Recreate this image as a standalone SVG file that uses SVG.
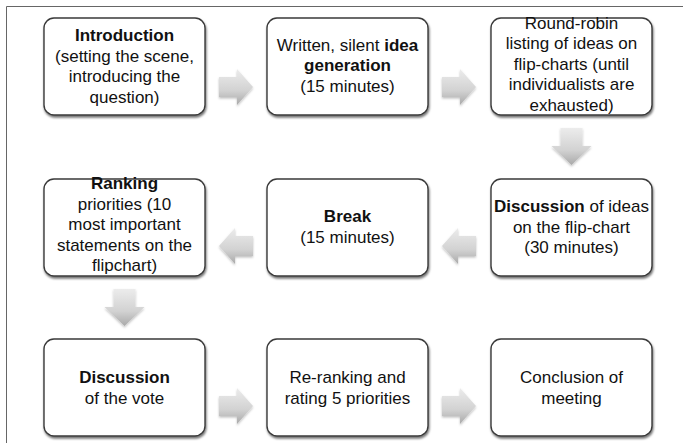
<svg xmlns="http://www.w3.org/2000/svg" width="683" height="443" viewBox="0 0 683 443">
<defs>
<linearGradient id="ag" x1="0" y1="0" x2="0" y2="1">
<stop offset="0" stop-color="#ececec"/>
<stop offset="0.6" stop-color="#d2d2d2"/>
<stop offset="1" stop-color="#a9a9a9"/>
</linearGradient>
<filter id="sh" x="-10%" y="-10%" width="125%" height="130%">
<feDropShadow dx="0.8" dy="2" stdDeviation="1.3" flood-color="#000" flood-opacity="0.55"/>
</filter>
<filter id="ash" x="-20%" y="-20%" width="150%" height="150%">
<feDropShadow dx="0" dy="1.5" stdDeviation="1.2" flood-color="#000" flood-opacity="0.25"/>
</filter>
</defs>
<style>
.box{fill:#fff;stroke:#3a3a3a;stroke-width:1.4;filter:url(#sh)}
text{font-family:"Liberation Sans",Arial,sans-serif;font-size:17px;fill:#111;text-anchor:middle}
.b{font-weight:bold}
.arr{fill:url(#ag);filter:url(#ash)}
.frame{stroke:#666;stroke-width:1;fill:none}
</style>
<rect width="683" height="443" fill="#fff"/>
<path class="frame" d="M6.5,443 V6.5 H683"/>

<g id="connectors">
<path class="arr" d="M219,77 H237 V69 L253,87 L237,105 V97 H219 Z"/>
<path class="arr" d="M442,77 H460 V69 L476,87 L460,105 V97 H442 Z"/>
<path class="arr" d="M560.5,128 V146 H551.5 L571.5,165 L591.5,146 H582.5 V128 Z"/>
<path class="arr" d="M476,236 H458 V228 L442,246 L458,264 V256 H476 Z"/>
<path class="arr" d="M253,236 H235 V228 L219,246 L235,264 V256 H253 Z"/>
<path class="arr" d="M113.5,289 V307 H104.5 L124.5,326 L144.5,307 H135.5 V289 Z"/>
<path class="arr" d="M219,396 H237 V388 L253,406 L237,424 V416 H219 Z"/>
<path class="arr" d="M442,396 H460 V388 L476,406 L460,424 V416 H442 Z"/>
</g>

<g id="n1">
<rect class="box" x="44" y="18" width="161" height="97" rx="10"/>
<text x="124.5" y="41"><tspan class="b">Introduction</tspan></text>
<text x="124.5" y="61.5">(setting the scene,</text>
<text x="124.5" y="82">introducing the</text>
<text x="124.5" y="102.5">question)</text>
</g>
<g id="n2">
<rect class="box" x="267" y="18" width="161" height="97" rx="10"/>
<text x="347.5" y="50.5">Written, silent <tspan class="b">idea</tspan></text>
<text x="347.5" y="71" class="b">generation</text>
<text x="347.5" y="91.5">(15 minutes)</text>
</g>
<g id="n3">
<rect class="box" x="491" y="18" width="161" height="97" rx="10"/>
<text x="571.5" y="28.5">Round-robin</text>
<text x="571.5" y="49">listing of ideas on</text>
<text x="571.5" y="69.5">flip-charts (until</text>
<text x="571.5" y="90">individualists are</text>
<text x="571.5" y="110.5">exhausted)</text>
</g>
<g id="n4">
<rect class="box" x="44" y="179" width="161" height="97" rx="10"/>
<text x="124.5" y="189" class="b">Ranking</text>
<text x="124.5" y="209.5">priorities (10</text>
<text x="124.5" y="230">most important</text>
<text x="124.5" y="250.5">statements on the</text>
<text x="124.5" y="271">flipchart)</text>
</g>
<g id="n5">
<rect class="box" x="267" y="179" width="161" height="97" rx="10"/>
<text x="347.5" y="222" class="b">Break</text>
<text x="347.5" y="242.5">(15 minutes)</text>
</g>
<g id="n6">
<rect class="box" x="491" y="179" width="161" height="97" rx="10"/>
<text x="571.5" y="212"><tspan class="b">Discussion</tspan> of ideas</text>
<text x="571.5" y="232.5">on the flip-chart</text>
<text x="571.5" y="253">(30 minutes)</text>
</g>
<g id="n7">
<rect class="box" x="44" y="339" width="161" height="97" rx="10"/>
<text x="124.5" y="383" class="b">Discussion</text>
<text x="124.5" y="403.5">of the vote</text>
</g>
<g id="n8">
<rect class="box" x="267" y="339" width="161" height="97" rx="10"/>
<text x="347.5" y="383">Re-ranking and</text>
<text x="347.5" y="403.5">rating 5 priorities</text>
</g>
<g id="n9">
<rect class="box" x="491" y="339" width="161" height="97" rx="10"/>
<text x="571.5" y="383">Conclusion of</text>
<text x="571.5" y="403.5">meeting</text>
</g>
</svg>
